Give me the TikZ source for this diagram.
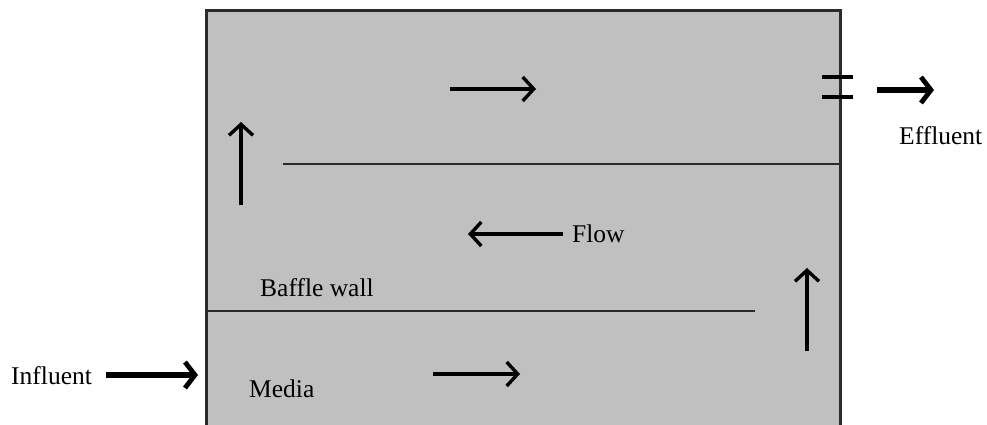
\documentclass[tikz,border=0pt]{standalone}
\usepackage{fontspec}
\setmainfont{Liberation Serif}
\usetikzlibrary{arrows.meta}
\definecolor{tank}{HTML}{C0C0C0}
\definecolor{wall}{HTML}{2A2A2A}
\tikzset{
  flowarrow/.style={line width=3.4pt, -{Straight Barb[length=11pt,width=24pt,line width=3.4pt]}},
  heavyarrow/.style={line width=5.5pt, -{Straight Barb[length=10pt,width=26pt,line width=4.8pt]}},
  baffle/.style={line width=2.4pt, draw=wall},
  lbl/.style={font=\fontsize{25.5}{28}\selectfont, inner sep=0pt, text=black}
}
\begin{document}
\begin{tikzpicture}[x=1pt,y=-1pt]
\useasboundingbox (0,0) rectangle (987,425);

% tank body
\fill[tank] (206,11) rectangle (840,425);
\draw[line width=3pt, draw=wall] (206,425) -- (206,11) -- (840,11) -- (840,425);

% baffle walls
\coordinate (b1s) at (283,164); \coordinate (b1e) at (841,164);
\coordinate (b2s) at (206,311); \coordinate (b2e) at (755,311);
\draw[baffle] (b1s) -- (b1e);
\draw[baffle] (b2s) -- (b2e);

% outlet weir
\draw[line width=3.8pt] (822,77) -- (853,77);
\draw[line width=3.8pt] (822,97) -- (853,97);

% flow arrows
\coordinate (a1s) at (450,89);  \coordinate (a1e) at (536,89);
\coordinate (a2s) at (241,205); \coordinate (a2e) at (241,122);
\coordinate (a3s) at (563,234); \coordinate (a3e) at (468,234);
\coordinate (a4s) at (807,351); \coordinate (a4e) at (807,268);
\coordinate (a5s) at (433,374); \coordinate (a5e) at (520,374);
\draw[flowarrow] (a1s) -- (a1e);
\draw[flowarrow] (a2s) -- (a2e);
\draw[flowarrow] (a3s) -- (a3e);
\draw[flowarrow] (a4s) -- (a4e);
\draw[flowarrow] (a5s) -- (a5e);

% inlet and outlet arrows
\coordinate (ins) at (106,375); \coordinate (ine) at (198,375);
\coordinate (outs) at (877,90); \coordinate (oute) at (934,90);
\draw[heavyarrow] (ins) -- (ine);
\draw[heavyarrow] (outs) -- (oute);

% labels
\node[lbl, anchor=west] (infl) at (11,376) {Influent};
\node[lbl, anchor=west] (effl) at (899,136) {Effluent};
\node[lbl, anchor=west] (flow) at (572,234) {Flow};
\node[lbl, anchor=west] (baf) at (260,288) {Baffle wall};
\node[lbl, anchor=west] (media) at (249,389) {Media};
\end{tikzpicture}
\end{document}
